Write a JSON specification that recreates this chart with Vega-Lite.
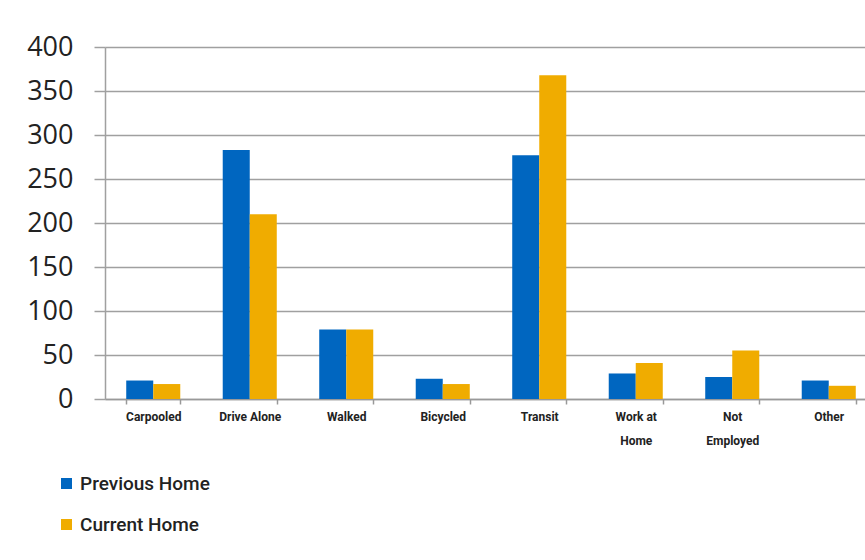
{
  "$schema": "https://vega.github.io/schema/vega-lite/v6.json",
  "autosize": {"type": "none"},
  "width": 760,
  "height": 352,
  "padding": {"left": 105, "top": 47, "right": 0, "bottom": 161},
  "background": "white",
  "data": {
    "values": [
      {"mode": "Carpooled", "series": "Previous Home", "value": 21},
      {"mode": "Carpooled", "series": "Current Home", "value": 17},
      {"mode": "Drive Alone", "series": "Previous Home", "value": 283},
      {"mode": "Drive Alone", "series": "Current Home", "value": 210},
      {"mode": "Walked", "series": "Previous Home", "value": 79},
      {"mode": "Walked", "series": "Current Home", "value": 79},
      {"mode": "Bicycled", "series": "Previous Home", "value": 23},
      {"mode": "Bicycled", "series": "Current Home", "value": 17},
      {"mode": "Transit", "series": "Previous Home", "value": 277},
      {"mode": "Transit", "series": "Current Home", "value": 368},
      {"mode": "Work at Home", "series": "Previous Home", "value": 29},
      {"mode": "Work at Home", "series": "Current Home", "value": 41},
      {"mode": "Not Employed", "series": "Previous Home", "value": 25},
      {"mode": "Not Employed", "series": "Current Home", "value": 55},
      {"mode": "Other", "series": "Previous Home", "value": 21},
      {"mode": "Other", "series": "Current Home", "value": 15}
    ]
  },
  "mark": {"type": "bar", "clip": false},
  "encoding": {
    "x": {
      "field": "mode",
      "type": "nominal",
      "sort": ["Carpooled", "Drive Alone", "Walked", "Bicycled", "Transit", "Work at Home", "Not Employed", "Other"],
      "scale": {"range": [0, 772], "paddingInner": 0.44, "paddingOuter": 0.22},
      "axis": {
        "title": null,
        "labelAngle": 0,
        "labelExpr": "datum.value == 'Work at Home' ? ['Work at', 'Home'] : datum.value == 'Not Employed' ? ['Not', 'Employed'] : datum.value",
        "labelFont": "Roboto",
        "labelFontWeight": "bold",
        "labelFontSize": 12,
        "labelColor": "#222222",
        "labelLineHeight": 24,
        "labelPadding": 7,
        "labelBaseline": "top",
        "tickBand": "extent",
        "tickSize": 5,
        "tickColor": "#999999",
        "tickWidth": 1.5,
        "domainColor": "#999999",
        "domainWidth": 1.5,
        "grid": false
      }
    },
    "xOffset": {
      "field": "series",
      "type": "nominal",
      "sort": ["Previous Home", "Current Home"],
      "scale": {"paddingInner": 0, "paddingOuter": 0}
    },
    "y": {
      "field": "value",
      "type": "quantitative",
      "scale": {"domain": [0, 400], "nice": false},
      "axis": {
        "title": null,
        "values": [0, 50, 100, 150, 200, 250, 300, 350, 400],
        "labelFont": "Open Sans",
        "labelFontSize": 27,
        "labelColor": "#222222",
        "labelPadding": 21,
        "tickSize": 11,
        "tickColor": "#a0a0a0",
        "tickWidth": 1.5,
        "domainColor": "#a0a0a0",
        "domainWidth": 1.5,
        "grid": true,
        "gridColor": "#a0a0a0",
        "gridWidth": 1.5
      }
    },
    "color": {
      "field": "series",
      "type": "nominal",
      "sort": ["Previous Home", "Current Home"],
      "scale": {"domain": ["Previous Home", "Current Home"], "range": ["#0066c0", "#f0ac00"]},
      "legend": {
        "title": null,
        "orient": "none",
        "legendX": -48,
        "legendY": 427,
        "padding": 0,
        "symbolType": "square",
        "symbolSize": 121,
        "symbolStrokeWidth": 0,
        "labelFont": "Roboto",
        "labelFontSize": 19,
        "labelFontWeight": 500,
        "labelColor": "#222222",
        "labelOffset": 4,
        "rowPadding": 21
      }
    }
  },
  "config": {"view": {"stroke": null}}
}
